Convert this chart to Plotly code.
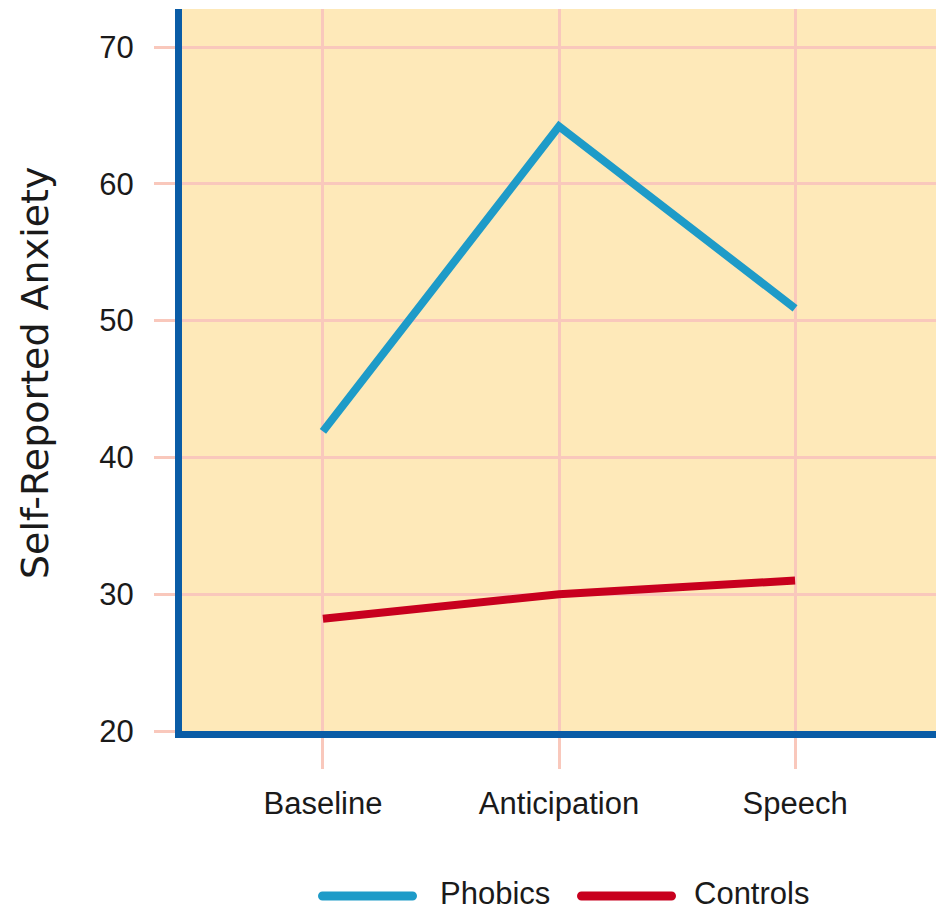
import plotly.graph_objects as go

categories = ["Baseline", "Anticipation", "Speech"]
phobics = [41.9, 64.2, 50.9]
controls = [28.2, 30.0, 31.0]
series_names = ["Phobics", "Controls"]
series_colors = ["#1E9BC8", "#C8001E"]
y_ticks = [20, 30, 40, 50, 60, 70]

W, H = 936, 913
L, R, T, B = 182, 0, 9, 182
plot_w = W - L - R
plot_h = H - T - B

FONT = "Liberation Sans, Arial, sans-serif"
GRID = "#F9C8BC"
AXIS = "#0A5CA6"
BG = "#FEE9B9"

fig = go.Figure()
for name, vals, col in zip(series_names, [phobics, controls], series_colors):
    fig.add_trace(go.Scatter(x=categories, y=vals, mode="lines", name=name,
                             line=dict(color=col, width=8), showlegend=False))

fig.update_layout(
    width=W, height=H,
    margin=dict(l=L, r=R, t=T, b=B, pad=0),
    paper_bgcolor="white", plot_bgcolor=BG,
    font=dict(family=FONT, color="#1a1a1a"),
    showlegend=False,
)
fig.update_xaxes(
    type="category", range=[-0.597, 2.597],
    showline=True, linecolor=AXIS, linewidth=7,
    showgrid=True, gridcolor=GRID, gridwidth=3,
    ticks="outside", ticklen=31, tickcolor=GRID, tickwidth=3,
    tickfont=dict(size=31, family=FONT, color="#1a1a1a"),
    ticklabelstandoff=8, zeroline=False,
)
fig.update_yaxes(
    range=[20, 72.78], tickvals=y_ticks,
    showline=True, linecolor=AXIS, linewidth=7,
    showgrid=True, gridcolor=GRID, gridwidth=3,
    ticks="outside", ticklen=21, tickcolor=GRID, tickwidth=3,
    tickfont=dict(size=31, family=FONT, color="#1a1a1a"),
    ticklabelstandoff=14, zeroline=False,
)

# y-axis title
fig.add_annotation(
    text="Self-Reported Anxiety", textangle=-90,
    xref="paper", yref="paper", x=(35 - L) / plot_w, y=(H - B - 373) / plot_h,
    xanchor="center", yanchor="middle", showarrow=False,
    font=dict(size=38, family="DejaVu Sans, sans-serif", color="#1a1a1a"),
)

# custom legend
leg_y = (H - B - 896) / plot_h
text_y = (H - B - 893) / plot_h
swatch_x = [318, 577]
text_x = [438, 692]
for name, col, sx, tx in zip(series_names, series_colors, swatch_x, text_x):
    r = 4.5
    wlen = 99
    path = (f"M {r},{-r} L {wlen - r},{-r} C {wlen - r + 2.5},{-r} {wlen},{-2.5} {wlen},0 "
            f"C {wlen},2.5 {wlen - r + 2.5},{r} {wlen - r},{r} L {r},{r} "
            f"C 2,{r} 0,2.5 0,0 C 0,-2.5 2,{-r} {r},{-r} Z")
    fig.add_shape(type="path", xref="paper", yref="paper",
                  xsizemode="pixel", ysizemode="pixel",
                  xanchor=(sx - L) / plot_w, yanchor=leg_y,
                  path=path, fillcolor=col, line=dict(width=0))
    fig.add_annotation(text=name, xref="paper", yref="paper",
                       x=(tx - L) / plot_w, y=text_y, xanchor="left", yanchor="middle",
                       showarrow=False, font=dict(size=31, family=FONT, color="#1a1a1a"))

fig.write_html("out.html")
